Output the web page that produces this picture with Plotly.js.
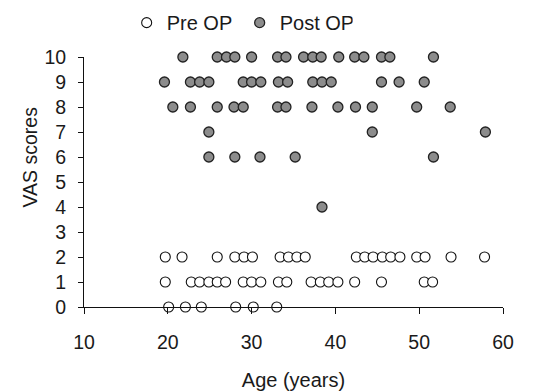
<!DOCTYPE html>
<html>
<head>
<meta charset="utf-8">
<script src="https://cdn.plot.ly/plotly-3.0.1.min.js"></script>
<style>
  html, body { margin: 0; padding: 0; background: #fff; }
  #chart { width: 539px; height: 391px; }
</style>
</head>
<body>
<div id="chart"></div>
<script>
// VAS pain scores by patient age, before and after the operation
const preAge = [
  20.1, 22.1, 24.0, 28.1, 30.2, 33.0,
  19.7, 22.8, 23.8, 24.9, 25.9, 26.9, 29.0, 30.0, 31.1, 33.2, 34.2, 37.1, 38.2, 39.2, 40.3, 42.3, 45.5, 50.6, 51.6,
  19.7, 21.7, 25.9, 28.0, 29.1, 30.1, 33.4, 34.4, 35.4, 36.4, 42.5, 43.5, 44.5, 45.6, 46.6, 47.7, 49.7, 50.7, 53.8, 57.8
];
const preVas = [
  0, 0, 0, 0, 0, 0,
  1, 1, 1, 1, 1, 1, 1, 1, 1, 1, 1, 1, 1, 1, 1, 1, 1, 1, 1,
  2, 2, 2, 2, 2, 2, 2, 2, 2, 2, 2, 2, 2, 2, 2, 2, 2, 2, 2, 2
];

const postAge = [
  38.4,
  24.9, 28.0, 31.0, 35.2, 51.7,
  24.9, 44.4, 57.9,
  20.6, 22.7, 25.9, 27.9, 29.0, 33.1, 34.1, 37.2, 40.3, 42.4, 44.4, 49.7, 53.7,
  19.6, 22.7, 23.8, 24.9, 29.0, 30.0, 31.1, 33.2, 34.3, 37.3, 38.4, 39.5, 45.5, 47.6, 50.6,
  21.8, 25.9, 27.0, 28.0, 30.0, 33.1, 34.1, 36.2, 37.3, 38.3, 40.4, 42.3, 43.4, 45.5, 46.5, 51.7
];
const postVas = [
  4,
  6, 6, 6, 6, 6,
  7, 7, 7,
  8, 8, 8, 8, 8, 8, 8, 8, 8, 8, 8, 8, 8,
  9, 9, 9, 9, 9, 9, 9, 9, 9, 9, 9, 9, 9, 9, 9,
  10, 10, 10, 10, 10, 10, 10, 10, 10, 10, 10, 10, 10, 10, 10, 10
];

const xTicks = [10, 20, 30, 40, 50, 60];
const yTicks = [0, 1, 2, 3, 4, 5, 6, 7, 8, 9, 10];

const FONT = 'Liberation Sans, Arial, Helvetica, sans-serif';
const INK = '#1a1a1a';

const traces = [
  {
    name: 'Pre OP',
    x: preAge, y: preVas,
    type: 'scatter', mode: 'markers',
    cliponaxis: false,
    marker: { symbol: 'circle', size: 10, color: '#ffffff', line: { color: '#111111', width: 1.1 } }
  },
  {
    name: 'Post OP',
    x: postAge, y: postVas,
    type: 'scatter', mode: 'markers',
    cliponaxis: false,
    marker: { symbol: 'circle', size: 10, color: '#8c8c8c', line: { color: '#222222', width: 1.3 } }
  }
];

const layout = {
  width: 539, height: 391,
  margin: { l: 84.4, r: 35.6, t: 57.3, b: 84.3, autoexpand: false },
  paper_bgcolor: '#ffffff', plot_bgcolor: '#ffffff',
  font: { family: FONT, size: 19.5, color: INK },
  showlegend: true,
  legend: {
    orientation: 'h',
    xref: 'container', yref: 'container',
    x: 0.235, xanchor: 'left',
    y: 0.992, yanchor: 'top',
    entrywidth: 68, entrywidthmode: 'pixels',
    font: { family: FONT, size: 20, color: INK },
    bgcolor: 'rgba(0,0,0,0)'
  },
  xaxis: {
    range: [10, 60],
    tickvals: xTicks,
    ticktext: xTicks.map(String),
    showgrid: false, zeroline: false,
    showline: true, linecolor: '#111111', linewidth: 1,
    ticks: 'outside', ticklen: 6, tickwidth: 1, tickcolor: '#111111',
    ticklabelstandoff: 12,
    tickfont: { family: FONT, size: 19.5, color: INK },
    title: { text: 'Age (years)', font: { family: FONT, size: 20, color: INK }, standoff: 20 }
  },
  yaxis: {
    range: [0, 10],
    tickvals: yTicks,
    ticktext: yTicks.map(String),
    showgrid: false, zeroline: false,
    showline: true, linecolor: '#111111', linewidth: 1,
    ticks: 'outside', ticklen: 5, tickwidth: 1, tickcolor: '#111111',
    tickfont: { family: FONT, size: 19.5, color: INK },
    ticklabelstandoff: 8
  },
  annotations: [
    {
      text: 'VAS scores',
      xref: 'paper', yref: 'paper',
      x: -0.13, y: 0.6, xanchor: 'center', yanchor: 'middle',
      textangle: -90, showarrow: false,
      font: { family: FONT, size: 19.5, color: INK }
    }
  ]
};

Plotly.newPlot('chart', traces, layout, { displayModeBar: false, staticPlot: true });
</script>
</body>
</html>
